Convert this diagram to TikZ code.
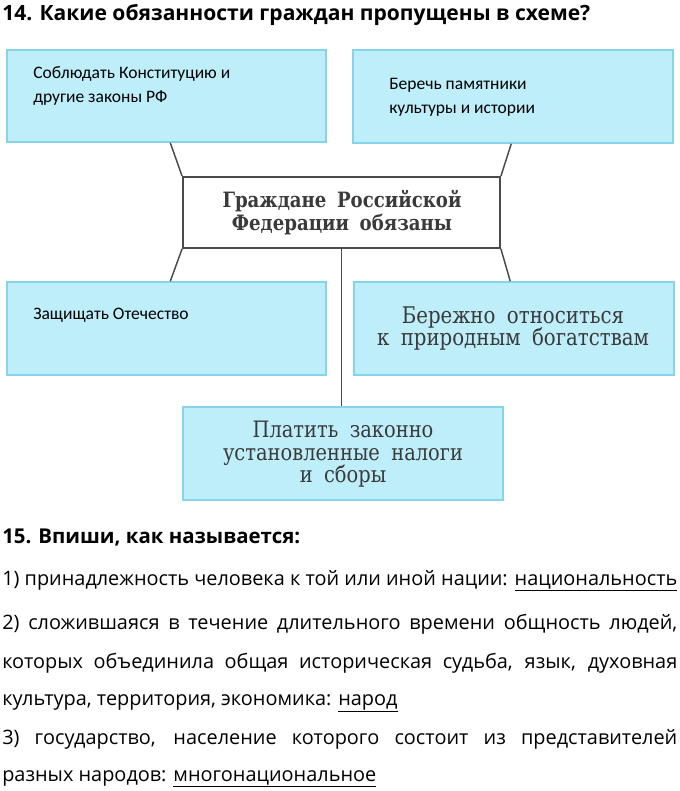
\documentclass[tikz,border=0pt]{standalone}
\usepackage{fontspec}
\usetikzlibrary{fit,calc}
\setmainfont{DejaVu Serif}
\newfontfamily\bodyfont{Open Sans}
\newfontfamily\handfont{Carlito}
\newfontfamily\bookfont{DejaVu Serif}[FakeStretch=0.86]
\definecolor{boxfill}{HTML}{BDEEFA}
\definecolor{boxline}{HTML}{86D4EA}
\definecolor{ink}{HTML}{3A3A3A}
\definecolor{frame}{HTML}{4A4A4A}
\newlength\fitlen
\newcommand\fitsz[3]{\settowidth\fitlen{\fontsize{10pt}{12pt}\selectfont #3}\pgfmathsetmacro#1{10*#2/\fitlen}}
\newcommand\fs[1]{\fontsize{#1pt}{#1pt}\selectfont}
\newcommand\wsp{\hspace{0.5em}}
\tikzset{
  ansbox/.style={draw=boxline, fill=boxfill, line width=1.1pt, inner sep=0pt},
  mainbox/.style={draw=frame, fill=white, line width=1.4pt, inner sep=0pt},
  link/.style={draw=frame, line width=1.1pt},
  txt/.style={inner sep=0pt, anchor=base west},
  ctxt/.style={inner sep=0pt, anchor=base, text=ink},
}
\begin{document}
% sizes
\fitsz\szT{441}{\bodyfont\bfseries 14. Какие обязанности граждан пропущены в схеме?}%
\fitsz\szH{223.5}{\bodyfont\bfseries 15. Впиши, как называется:}%
\fitsz\szA{506.25}{\bodyfont 1) принадлежность человека к той или иной нации: национальность}%
\fitsz\szB{506.25}{\bodyfont 2) сложившаяся в течение длительного времени общность людей,}%
\fitsz\szC{506.25}{\bodyfont которых объединила общая историческая судьба, язык, духовная}%
\fitsz\szD{506.25}{\bodyfont 3) государство, население которого состоит из представителей}%
\pgfmathsetmacro\szBody{min(\szA,min(\szB,min(\szC,\szD)))}%
\fitsz\szHand{147.75}{\handfont Соблюдать Конституцию и}%
\fitsz\szCb{179.25}{\bookfont\bfseries Граждане\wsp Российской}%
\fitsz\szBr{204}{\bookfont к\wsp природным\wsp богатствам}%
\fitsz\szBo{180}{\bookfont установленные\wsp налоги}%
\begin{tikzpicture}[x=0.75pt,y=-0.75pt]
\fill[white] (0,0) rectangle (679,791);
\useasboundingbox (0,0) rectangle (679,791);
% boxes
\node[ansbox, fit={(7,50)(326,142)}] (tl) {};
\node[ansbox, fit={(353,50)(673,143)}] (tr) {};
\node[mainbox, fit={(183,177)(500,248)}] (cb) {};
\node[ansbox, fit={(7,282)(326,375)}] (bl) {};
\node[ansbox, fit={(354,282)(674,375)}] (br) {};
\node[ansbox, fit={(183,407)(503,500)}] (bot) {};
% connectors
\draw[link] ($(tl.south west)+(164,0)$) -- (cb.north west);
\draw[link] ($(tr.south west)+(159,0)$) -- (cb.north east);
\draw[link] (cb.south west) -- ($(bl.north west)+(164,0)$);
\draw[link] (cb.south east) -- ($(br.north west)+(157,0)$);
\draw[link] (cb.south) -- (cb.south |- bot.north);
% title
\node[txt] (title) at (2,21) {\bodyfont\bfseries\fs{\szT}14. Какие обязанности граждан пропущены в схеме?};
% box texts
\node[txt] (tl1) at (33,79) {\handfont\fs{\szHand}Соблюдать Конституцию и};
\node[txt] (tl2) at (33,103) {\handfont\fs{\szHand}другие законы РФ};
\node[txt] (tr1) at (389,90) {\handfont\fs{\szHand}Беречь памятники};
\node[txt] (tr2) at (389,114) {\handfont\fs{\szHand}культуры и истории};
\node[txt] (bl1) at (33,319) {\handfont\fs{\szHand}Защищать Отечество};
\node[ctxt] (cb1) at (342,208) {\bookfont\bfseries\fs{\szCb}Граждане\wsp Российской};
\node[ctxt] (cb2) at (342,231) {\bookfont\bfseries\fs{\szCb}Федерации\wsp обязаны};
\node[ctxt] (br1) at (513,323) {\bookfont\fs{\szBr}Бережно\wsp относиться};
\node[ctxt] (br2) at (513,345) {\bookfont\fs{\szBr}к\wsp природным\wsp богатствам};
\node[ctxt] (bo1) at (343,437) {\bookfont\fs{\szBo}Платить\wsp законно};
\node[ctxt] (bo2) at (343,460) {\bookfont\fs{\szBo}установленные\wsp налоги};
\node[ctxt] (bo3) at (343,482) {\bookfont\fs{\szBo}и\wsp сборы};
% section 15
\node[txt] (h15) at (2,543) {\bodyfont\bfseries\fs{\szH}15. Впиши, как называется:};
\node[txt] (l1) at (2,585) {\bodyfont\fs{\szBody}\makebox[506.25pt][s]{1) принадлежность человека к той или иной нации: \underline{национальность}}};
\node[txt] (l2) at (2,629) {\bodyfont\fs{\szBody}\makebox[506.25pt][s]{2) сложившаяся в течение длительного времени общность людей,}};
\node[txt] (l3) at (2,668) {\bodyfont\fs{\szBody}\makebox[506.25pt][s]{которых объединила общая историческая судьба, язык, духовная}};
\node[txt] (l4) at (2,705) {\bodyfont\fs{\szBody}культура, территория, экономика: \underline{народ}};
\node[txt] (l5) at (2,744) {\bodyfont\fs{\szBody}\makebox[506.25pt][s]{3) государство, население которого состоит из представителей}};
\node[txt] (l6) at (2,781) {\bodyfont\fs{\szBody}разных народов: \underline{многонациональное}};
\end{tikzpicture}
\end{document}
